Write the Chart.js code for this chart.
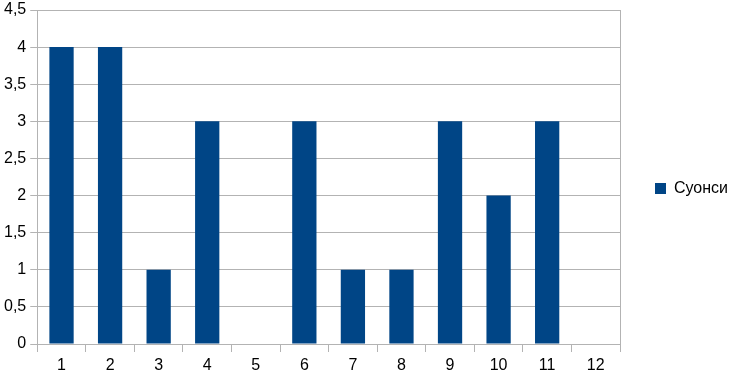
<!DOCTYPE html>
<html>
<head>
<meta charset="utf-8">
<script src="https://cdn.jsdelivr.net/npm/chart.js@4/dist/chart.umd.min.js"></script>
<style>
  body { margin: 0; background: #fff; }
  #wrap { width: 730px; height: 377px; }
</style>
</head>
<body>
<div id="wrap"><canvas id="myChart"></canvas></div>
<script>
var labels = ['1', '2', '3', '4', '5', '6', '7', '8', '9', '10', '11', '12']
var seriesName = 'Суонси'
var values = [4, 4, 1, 3, 0, 3, 1, 1, 3, 2, 3, 0]

var ctx = document.getElementById('myChart').getContext('2d')
var chart = new Chart(ctx, {
  type: 'bar',
  data: {
    labels: labels,
    datasets: [{
      label: seriesName,
      data: values,
      backgroundColor: '#004586',
      borderWidth: 0,
      barPercentage: 0.5,
      categoryPercentage: 1
    }]
  },
  options: {
    responsive: true,
    maintainAspectRatio: false,
    animation: false,
    layout: { padding: { top: 0, right: 0, bottom: 0, left: 0 } },
    plugins: {
      tooltip: { enabled: false },
      legend: {
        position: 'right',
        maxWidth: 76,
        labels: {
          boxWidth: 11,
          boxHeight: 11,
          padding: 1,
          color: '#000',
          font: { family: 'Liberation Sans', size: 16 }
        }
      }
    },
    scales: {
      x: {
        offset: true,
        grid: {
          offset: true,
          drawOnChartArea: false,
          tickLength: 8,
          color: '#b3b3b3'
        },
        border: { color: '#b3b3b3' },
        ticks: {
          color: '#000',
          padding: 6,
          maxRotation: 0,
          font: { family: 'Liberation Sans', size: 16, lineHeight: 1 }
        },
        afterFit: function (scale) { scale.height = 33 }
      },
      y: {
        min: 0,
        max: 4.5,
        grid: {
          color: '#b3b3b3',
          tickLength: 7
        },
        border: { color: '#b3b3b3' },
        ticks: {
          stepSize: 0.5,
          color: '#000',
          padding: 4,
          font: { family: 'Liberation Sans', size: 16, lineHeight: 1 }
        },
        afterFit: function (scale) { scale.paddingTop = 10; scale.paddingBottom = 0 }
      },
      y2: {
        position: 'right',
        min: 0,
        max: 4.5,
        grid: { display: false },
        border: { color: '#b3b3b3' },
        ticks: { display: false },
        afterFit: function (scale) { scale.width = 34 }
      }
    }
  }
})
chart.options.scales.y.ticks.callback = function (v) { return String(v).replace('.', ',') }
chart.update()
</script>
</body>
</html>
